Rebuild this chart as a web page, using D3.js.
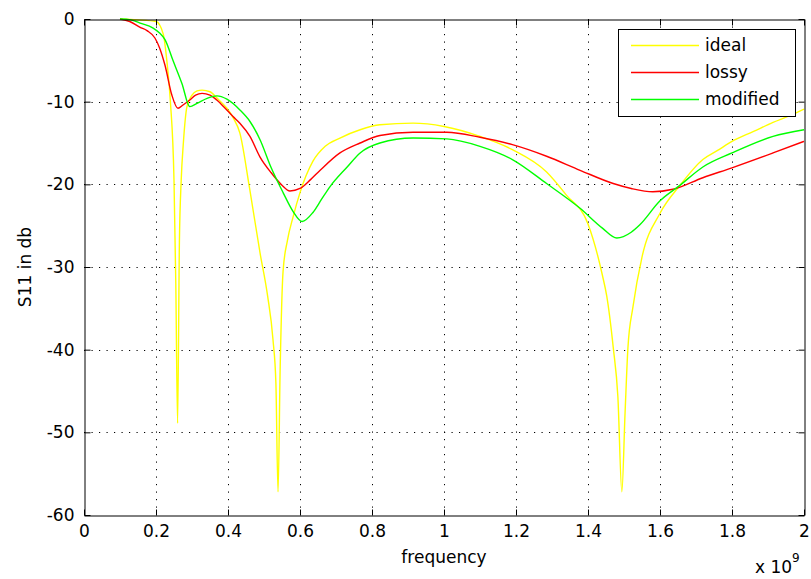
<!DOCTYPE html>
<html>
<head>
<meta charset="utf-8">
<script src="https://cdn.jsdelivr.net/npm/d3@7/dist/d3.min.js"></script>
<style>
  html, body { margin: 0; padding: 0; background: #fff; }
  svg { display: block; }
  text { font-family: "DejaVu Sans", sans-serif; fill: #000; }
</style>
</head>
<body>
<svg id="chart" width="811" height="579"></svg>
<script>
// Return loss S11 (dB) versus frequency (GHz, axis scaled by 1e9)
const xTicks = [0, 0.2, 0.4, 0.6, 0.8, 1, 1.2, 1.4, 1.6, 1.8, 2];
const yTicks = [0, -10, -20, -30, -40, -50, -60];
const seriesNames = ["ideal", "lossy", "modified"];
const seriesColors = ["#ffff00", "#ff0000", "#00ff00"];

// [frequency in GHz, S11 in dB]
const ideal = [
  [0.10, 0], [0.15, -0.1], [0.20, -0.3], [0.22, -1.8], [0.23, -5.0], [0.24, -10.0],
  [0.25, -19.5], [0.255, -32], [0.26, -48.9], [0.265, -27], [0.27, -19.5],
  [0.276, -15.0], [0.286, -10.6], [0.30, -9.2], [0.314, -8.7], [0.328, -8.6],
  [0.35, -8.8], [0.37, -9.6], [0.397, -10.8], [0.415, -12.0], [0.433, -13.8],
  [0.46, -20.5], [0.489, -28.3], [0.51, -33.5], [0.525, -38.8], [0.533, -44],
  [0.539, -57.2], [0.545, -42], [0.553, -30.5], [0.565, -26.8], [0.581, -23.9],
  [0.60, -21.0], [0.636, -17.2], [0.67, -15.4], [0.711, -14.4], [0.767, -13.4],
  [0.822, -12.8], [0.914, -12.6], [1.0, -13.0], [1.1, -14.2], [1.19, -15.8],
  [1.285, -18.5], [1.34, -21.3], [1.40, -24.8], [1.44, -31], [1.452, -33.5],
  [1.47, -39.7], [1.483, -45.7], [1.494, -57.2], [1.503, -47.6], [1.511, -39.7],
  [1.525, -34.8], [1.55, -28.8], [1.60, -23.5], [1.656, -20.1], [1.719, -17.0],
  [1.76, -15.9], [1.80, -14.8], [1.86, -13.6], [1.914, -12.5], [1.96, -11.7],
  [2.0, -10.9]
];
const lossy = [
  [0.10, 0], [0.127, -0.3], [0.156, -1.0], [0.175, -1.4], [0.197, -2.3],
  [0.21, -3.5], [0.225, -5.6], [0.244, -9.2], [0.261, -10.8], [0.275, -10.4],
  [0.294, -9.8], [0.31, -9.2], [0.328, -9.0], [0.35, -9.2], [0.369, -9.8],
  [0.39, -10.7], [0.414, -11.8], [0.433, -12.6], [0.461, -14.2], [0.489, -16.7],
  [0.52, -18.6], [0.55, -20.1], [0.572, -20.8], [0.60, -20.5], [0.63, -19.4],
  [0.656, -18.3], [0.711, -16.2], [0.767, -15.0], [0.822, -14.1], [0.914, -13.7],
  [1.008, -13.7], [1.10, -14.3], [1.19, -15.2], [1.285, -16.6], [1.378, -18.3],
  [1.47, -19.9], [1.52, -20.5], [1.58, -20.9], [1.636, -20.6], [1.719, -19.2],
  [1.80, -18.0], [1.914, -16.2], [2.0, -14.8]
];
const modified = [
  [0.10, 0], [0.13, -0.1], [0.156, -0.5], [0.192, -1.1], [0.21, -1.7],
  [0.225, -2.5], [0.247, -5.0], [0.272, -7.8], [0.294, -10.6], [0.314, -10.2],
  [0.342, -9.6], [0.369, -9.3], [0.397, -9.7], [0.433, -11.0], [0.461, -12.4],
  [0.489, -14.6], [0.52, -18.0], [0.553, -21.0], [0.581, -23.3], [0.606, -24.5],
  [0.636, -23.4], [0.66, -21.8], [0.683, -20.3], [0.731, -17.9], [0.767, -16.2],
  [0.822, -15.0], [0.914, -14.4], [1.008, -14.5], [1.10, -15.4], [1.19, -17.0],
  [1.285, -19.9], [1.378, -22.9], [1.44, -25.3], [1.48, -26.5], [1.52, -25.8],
  [1.544, -24.9], [1.60, -22.0], [1.656, -20.1], [1.719, -17.9], [1.80, -16.2],
  [1.914, -14.2], [2.0, -13.4]
];
const seriesData = [ideal, lossy, modified];

const svg = d3.select("#chart");
const plotLeft = 84, plotRight = 804, plotTop = 19, plotBottom = 515;

const x = d3.scaleLinear().domain([0, 2]).range([plotLeft, plotRight]);
const y = d3.scaleLinear().domain([-60, 0]).range([plotBottom, plotTop]);

// dotted grid
const grid = svg.append("g").attr("stroke", "#000").attr("stroke-width", 1)
  .attr("stroke-dasharray", "1.2 6.3");
grid.selectAll(".gx").data(xTicks.slice(1, -1)).join("line")
  .attr("x1", d => Math.round(x(d)) + 0.5).attr("x2", d => Math.round(x(d)) + 0.5)
  .attr("y1", plotTop).attr("y2", plotBottom);
grid.selectAll(".gy").data(yTicks.slice(1, -1)).join("line")
  .attr("y1", d => Math.round(y(d)) + 0.5).attr("y2", d => Math.round(y(d)) + 0.5)
  .attr("x1", plotLeft).attr("x2", plotRight);

// curves
const line = d3.line().x(d => x(d[0])).y(d => y(d[1])).curve(d3.curveMonotoneX);
svg.append("g").selectAll("path").data(seriesData).join("path")
  .attr("d", line)
  .attr("fill", "none")
  .attr("stroke", (d, i) => seriesColors[i])
  .attr("stroke-width", 1.4)
  .attr("stroke-linejoin", "round");

// axes with inward ticks on all four sides
const bottomAxis = d3.axisBottom(x).tickValues(xTicks).tickFormat(d => String(d))
  .tickSizeInner(-6).tickSizeOuter(0).tickPadding(9);
const leftAxis = d3.axisLeft(y).tickValues(yTicks).tickFormat(d => String(d))
  .tickSizeInner(-6).tickSizeOuter(0).tickPadding(10);
const topAxis = d3.axisTop(x).tickValues(xTicks).tickFormat("")
  .tickSizeInner(-6).tickSizeOuter(0);
const rightAxis = d3.axisRight(y).tickValues(yTicks).tickFormat("")
  .tickSizeInner(-6).tickSizeOuter(0);

function styleAxis(g) {
  g.selectAll("path, line").attr("stroke", "#000").attr("stroke-width", 1);
  g.selectAll("text").attr("font-family", "DejaVu Sans, sans-serif")
    .attr("font-size", 17).attr("fill", "#000");
}
svg.append("g").attr("transform", `translate(0,${plotBottom + 0.5})`).call(bottomAxis).call(styleAxis);
svg.append("g").attr("transform", `translate(${plotLeft + 0.5},0)`).call(leftAxis).call(styleAxis);
svg.append("g").attr("transform", `translate(0,${plotTop + 0.5})`).call(topAxis).call(styleAxis);
svg.append("g").attr("transform", `translate(${plotRight + 0.5},0)`).call(rightAxis).call(styleAxis);

// axis titles
svg.append("text").attr("x", (plotLeft + plotRight) / 2).attr("y", 563)
  .attr("text-anchor", "middle").attr("font-size", 17).text("frequency");
svg.append("text")
  .attr("transform", `translate(31,${(plotTop + plotBottom) / 2}) rotate(-90)`)
  .attr("text-anchor", "middle").attr("font-size", 17).text("S11 in db");
const exp = svg.append("text").attr("x", 755).attr("y", 573).attr("font-size", 17);
exp.append("tspan").text("x 10");
exp.append("tspan").attr("dy", -11).attr("font-size", 12).text("9");

// legend
const lg = svg.append("g");
lg.append("rect").attr("x", 618.5).attr("y", 29.5).attr("width", 177).attr("height", 87)
  .attr("fill", "#fff").attr("stroke", "#000").attr("stroke-width", 1);
const rows = lg.selectAll("g.row").data(seriesNames).join("g")
  .attr("transform", (d, i) => `translate(0,${45 + i * 27})`);
rows.append("line").attr("x1", 631).attr("x2", 699).attr("y1", 0.5).attr("y2", 0.5)
  .attr("stroke", (d, i) => seriesColors[i]).attr("stroke-width", 1.4);
rows.append("text").attr("x", 705).attr("y", 0).attr("dy", "0.35em")
  .attr("font-size", 17).text(d => d);
</script>
</body>
</html>
